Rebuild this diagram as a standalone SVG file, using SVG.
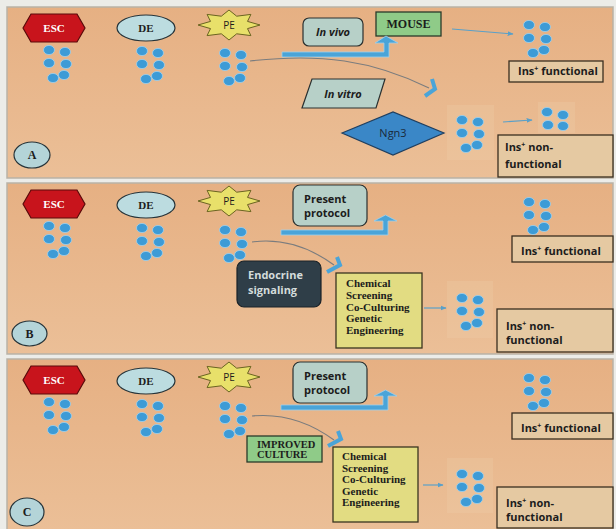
<svg xmlns="http://www.w3.org/2000/svg" xmlns:xlink="http://www.w3.org/1999/xlink" width="616" height="529" viewBox="0 0 616 529">
<style>
  .panel { fill: url(#bg); stroke: #b9b2a6; stroke-width: 1.5; }
  .dot { fill: #3d9bd6; stroke: #9fd0ec; stroke-width: 0.8; }
  .esc { fill: #c8141c; stroke: #5a0a0a; stroke-width: 1.2; }
  .de { fill: #bcdce0; stroke: #26343a; stroke-width: 1.2; }
  .pe { fill: #e8e06a; stroke: #6a6420; stroke-width: 1; }
  .lbl { fill: #b4d4d8; stroke: #26343a; stroke-width: 1.2; }
  .gray { fill: #b7d0c8; stroke: #2a3030; stroke-width: 1.2; }
  .tan { fill: #e5c9a2; stroke: #3a2e20; stroke-width: 1.3; }
  .yellow { fill: #e2dc82; stroke: #3a3520; stroke-width: 1.3; }
  .green { fill: #8fcb88; stroke: #2a3a2a; stroke-width: 1.3; }
  .dark { fill: #2f3e48; stroke: #1a2228; stroke-width: 1.2; }
  .diamond { fill: #3a87c7; stroke: #1f3f60; stroke-width: 1.2; }
  .glow { fill: #f0cca8; opacity: 0.3; }
  .big { fill: #4aa4d8; stroke: #9fd0ec; stroke-width: 0.8; }
  .curve { fill: none; stroke: #7a7c7e; stroke-width: 1.1; }
  .chev { fill: none; stroke: #4aa4d8; stroke-width: 4; stroke-linejoin: miter; }
  .thin { fill: none; stroke: #5aa0c8; stroke-width: 1.2; marker-end: url(#ah); }
  .serif { font-family: "Liberation Serif", "Times New Roman", serif; font-weight: bold; }
  .sans { font-family: "Open Sans", "Liberation Sans", Arial, sans-serif; font-weight: bold; }
  .t11 { font-size: 11px; fill: #1c1c1c; }
</style>
<defs>
  <linearGradient id="bg" x1="0" y1="0" x2="0" y2="1">
    <stop offset="0" stop-color="#e6b083"/>
    <stop offset="1" stop-color="#ebbf97"/>
  </linearGradient>
  <marker id="ah" viewBox="0 0 10 10" refX="9" refY="5" markerWidth="6" markerHeight="6" orient="auto" markerUnits="userSpaceOnUse">
    <path d="M0,1 L10,5 L0,9 Z" fill="#5aa0c8"/>
  </marker>
  <path id="hex" d="M-31,0 L-23,-14 L23,-14 L31,0 L23,14 L-23,14 Z"/>
  <path id="star" d="M0,-15 L7.7,-8.8 L21.9,-10.6 L18.5,-3.6 L31,0 L18.5,3.6 L21.9,10.6 L7.7,8.8 L0,15 L-7.7,8.8 L-21.9,10.6 L-18.5,3.6 L-31,0 L-18.5,-3.6 L-21.9,-10.6 L-7.7,-8.8 Z"/>
  <g id="dots6">
    <ellipse class="dot" cx="0" cy="0" rx="5.5" ry="4.6"/>
    <ellipse class="dot" cx="16" cy="2" rx="5.5" ry="4.6"/>
    <ellipse class="dot" cx="0" cy="13" rx="5.5" ry="4.6"/>
    <ellipse class="dot" cx="17" cy="14" rx="5.5" ry="4.6"/>
    <ellipse class="dot" cx="4" cy="28" rx="5.5" ry="4.6"/>
    <ellipse class="dot" cx="15" cy="25" rx="5.5" ry="4.6"/>
  </g>
  <g id="dots4">
    <ellipse class="dot" cx="0" cy="0" rx="5.5" ry="4.6"/>
    <ellipse class="dot" cx="16" cy="3" rx="5.5" ry="4.6"/>
    <ellipse class="dot" cx="1" cy="13" rx="5.5" ry="4.6"/>
    <ellipse class="dot" cx="16" cy="14" rx="5.5" ry="4.6"/>
  </g>
</defs>

<rect x="0" y="0" width="616" height="529" fill="#ecece8"/>
<rect class="panel" x="7" y="7" width="606" height="171"/>
<rect class="panel" x="7" y="183" width="606" height="171"/>
<rect class="panel" x="7" y="359" width="606" height="172"/>

<!-- ================= PANEL A ================= -->
<g id="A-esc"><use href="#hex" class="esc" transform="translate(54,28)"/><text class="serif" x="54" y="32" font-size="11" fill="#fff" text-anchor="middle">ESC</text><use href="#dots6" x="49" y="50"/></g>
<g id="A-de"><ellipse class="de" cx="146" cy="28" rx="29" ry="13"/><text class="serif" x="146" y="32" font-size="11" fill="#1c1c1c" text-anchor="middle">DE</text><use href="#dots6" x="142" y="51"/></g>
<g id="A-pe"><use href="#star" class="pe" transform="translate(229,25)"/><text x="229" y="29" font-family="'Open Sans', 'Liberation Sans', sans-serif" font-size="10" fill="#1c1c1c" text-anchor="middle">PE</text><use href="#dots6" x="225" y="53"/></g>
<g id="A-invivo"><rect class="gray" x="303" y="18" width="60" height="28" rx="6"/><text class="sans t11" x="333" y="36" text-anchor="middle" font-style="italic">In vivo</text></g>
<g id="A-mouse"><rect class="green" x="376" y="12" width="65" height="24"/><text class="serif" x="408.5" y="28" font-size="12" fill="#1c1c1c" text-anchor="middle">MOUSE</text></g>
<g id="A-invitro"><path class="gray" d="M312,79 L385,79 L376,108 L302,108 Z"/><text class="sans t11" x="343" y="98" text-anchor="middle" font-style="italic">In vitro</text></g>
<g id="A-ngn3"><path class="diamond" d="M342,133 L393,112 L444,133 L393,155 Z"/><text x="393" y="137" font-family="'Open Sans', 'Liberation Sans', sans-serif" font-size="11" fill="#1a2a3a" text-anchor="middle">Ngn3</text></g>
<g id="A-mid"><rect class="glow" x="447" y="105" width="47" height="55"/><use href="#dots6" x="462" y="120"/></g>
<g id="A-small"><rect class="glow" x="538" y="102" width="37" height="31"/><use href="#dots4" x="547" y="112"/></g>
<g id="A-func"><use href="#dots6" x="529" y="25"/><rect class="tan" x="509" y="61" width="94" height="21"/><text class="sans t11" x="518" y="75">Ins<tspan font-size="7" dy="-4">+</tspan><tspan dy="4"> functional</tspan></text></g>
<g id="A-nonfunc"><rect class="tan" x="498" y="135" width="115" height="42"/><text class="sans t11" x="505" y="151">Ins<tspan font-size="7" dy="-4">+</tspan><tspan dy="4"> non-</tspan></text><text class="sans t11" x="505" y="168">functional</text></g>
<g id="A-label"><ellipse class="lbl" cx="32" cy="155" rx="18" ry="13"/><text class="serif" x="32" y="159" font-size="12" fill="#1c1c1c" text-anchor="middle">A</text></g>

<!-- ================= PANEL B ================= -->
<g id="B-esc"><use href="#hex" class="esc" transform="translate(54,204)"/><text class="serif" x="54" y="208" font-size="11" fill="#fff" text-anchor="middle">ESC</text><use href="#dots6" x="49" y="226"/></g>
<g id="B-de"><ellipse class="de" cx="146" cy="205" rx="29" ry="13"/><text class="serif" x="146" y="209" font-size="11" fill="#1c1c1c" text-anchor="middle">DE</text><use href="#dots6" x="142" y="228"/></g>
<g id="B-pe"><use href="#star" class="pe" transform="translate(229,201)"/><text x="229" y="205" font-family="'Open Sans', 'Liberation Sans', sans-serif" font-size="10" fill="#1c1c1c" text-anchor="middle">PE</text><use href="#dots6" x="225" y="230"/></g>
<g id="B-present"><rect class="gray" x="293" y="185" width="74" height="41" rx="7"/><text class="sans t11" x="304" y="203">Present</text><text class="sans t11" x="304" y="217">protocol</text></g>
<g id="B-endocrine"><rect class="dark" x="237" y="261" width="84" height="46" rx="7"/><text class="sans" x="248" y="279" font-size="11" fill="#d4dcdc">Endocrine</text><text class="sans" x="248" y="294" font-size="11" fill="#d4dcdc">signaling</text></g>
<g id="B-chem"><rect class="yellow" x="336" y="273" width="86" height="75"/><text class="serif" font-size="11" fill="#1c1c1c"><tspan x="346" y="287">Chemical</tspan><tspan x="346" y="299">Screening</tspan><tspan x="346" y="311">Co-Culturing</tspan><tspan x="346" y="322">Genetic</tspan><tspan x="346" y="334">Engineering</tspan></text></g>
<g id="B-mid"><rect class="glow" x="447" y="281" width="46" height="57"/><use href="#dots6" x="462" y="298"/></g>
<g id="B-func"><use href="#dots6" x="529" y="202"/><rect class="tan" x="512" y="236" width="101" height="26"/><text class="sans t11" x="521" y="255">Ins<tspan font-size="7" dy="-4">+</tspan><tspan dy="4"> functional</tspan></text></g>
<g id="B-nonfunc"><rect class="tan" x="497" y="309" width="116" height="43"/><text class="sans t11" x="506" y="330">Ins<tspan font-size="7" dy="-4">+</tspan><tspan dy="4"> non-</tspan></text><text class="sans t11" x="506" y="344">functional</text></g>
<g id="B-label"><ellipse class="lbl" cx="29.5" cy="333.5" rx="17.5" ry="12.5"/><text class="serif" x="29.5" y="338" font-size="12" fill="#1c1c1c" text-anchor="middle">B</text></g>

<!-- ================= PANEL C ================= -->
<g id="C-esc"><use href="#hex" class="esc" transform="translate(54,380)"/><text class="serif" x="54" y="384" font-size="11" fill="#fff" text-anchor="middle">ESC</text><use href="#dots6" x="49" y="402"/></g>
<g id="C-de"><ellipse class="de" cx="146" cy="381" rx="29" ry="13"/><text class="serif" x="146" y="385" font-size="11" fill="#1c1c1c" text-anchor="middle">DE</text><use href="#dots6" x="142" y="404"/></g>
<g id="C-pe"><use href="#star" class="pe" transform="translate(229,377)"/><text x="229" y="381" font-family="'Open Sans', 'Liberation Sans', sans-serif" font-size="10" fill="#1c1c1c" text-anchor="middle">PE</text><use href="#dots6" x="225" y="406"/></g>
<g id="C-present"><rect class="gray" x="293" y="362" width="74" height="41" rx="7"/><text class="sans t11" x="304" y="380">Present</text><text class="sans t11" x="304" y="394">protocol</text></g>
<g id="C-improved"><rect class="green" x="247" y="436" width="75" height="26"/><text class="serif" font-size="10.5" fill="#1c1c1c"><tspan x="257" y="448">IMPROVED</tspan><tspan x="257" y="458">CULTURE</tspan></text></g>
<g id="C-chem"><rect class="yellow" x="333" y="447" width="85" height="75"/><text class="serif" font-size="11" fill="#1c1c1c"><tspan x="342" y="460">Chemical</tspan><tspan x="342" y="472">Screening</tspan><tspan x="342" y="483">Co-Culturing</tspan><tspan x="342" y="495">Genetic</tspan><tspan x="342" y="506">Engineering</tspan></text></g>
<g id="C-mid"><rect class="glow" x="447" y="458" width="46" height="55"/><use href="#dots6" x="462" y="474"/></g>
<g id="C-func"><use href="#dots6" x="529" y="378"/><rect class="tan" x="512" y="413" width="101" height="26"/><text class="sans t11" x="521" y="432">Ins<tspan font-size="7" dy="-4">+</tspan><tspan dy="4"> functional</tspan></text></g>
<g id="C-nonfunc"><rect class="tan" x="497" y="487" width="116" height="41"/><text class="sans t11" x="506" y="507">Ins<tspan font-size="7" dy="-4">+</tspan><tspan dy="4"> non-</tspan></text><text class="sans t11" x="506" y="521">functional</text></g>
<g id="C-label"><ellipse class="lbl" cx="27" cy="512" rx="17" ry="14"/><text class="serif" x="27" y="516" font-size="12" fill="#1c1c1c" text-anchor="middle">C</text></g>

<!-- ================= CONNECTORS ================= -->
<g id="connectors">
  <path class="big" d="M282,52 L384,52 L384,43 L375,43 L386,36 L398,43 L389,43 L389,57 L282,57 Z"/>
  <path class="curve" d="M250,61 C320,53 372,60 429,88"/>
  <polyline class="chev" points="432,79 435,89 425,96"/>
  <path class="thin" d="M452,29 L513,34"/>
  <path class="thin" d="M503,122 L532,120"/>

  <path class="big" d="M281,230 L383,230 L383,221 L374,221 L385.5,215 L397,221 L388,221 L388,235 L281,235 Z"/>
  <path class="curve" d="M252,242 C282,238 308,246 334,265"/>
  <polyline class="chev" points="337,257 340,265 327,272"/>
  <path class="thin" d="M424,308 L446,308"/>

  <path class="big" d="M281,405 L383,405 L383,396 L374,396 L385.5,390 L397,396 L388,396 L388,410 L281,410 Z"/>
  <path class="curve" d="M252,416 C282,413 308,421 334,440"/>
  <polyline class="chev" points="338,431 341,439 328,446"/>
  <path class="thin" d="M423,485 L443,485"/>
</g>
</svg>
